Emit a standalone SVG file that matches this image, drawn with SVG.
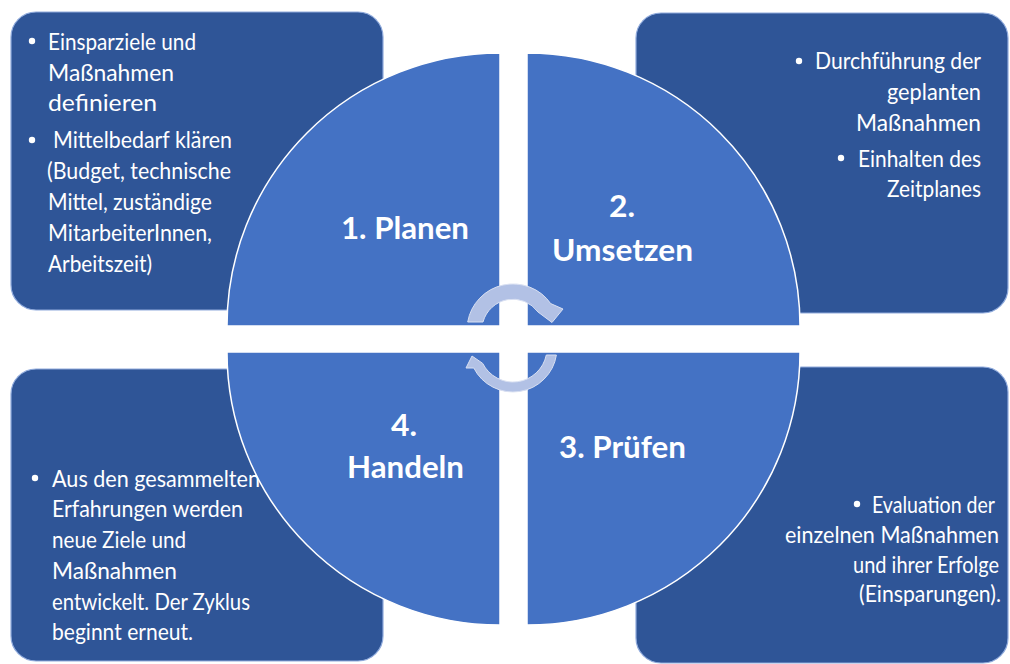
<svg xmlns="http://www.w3.org/2000/svg" width="1010" height="664" viewBox="0 0 1010 664">
  <style>
    .box { fill: #2F5597; stroke: #8FAADC; stroke-width: 1.2; }
    .quad { fill: #4472C4; stroke: #FFFFFF; stroke-width: 1.5; }
    .txt { font-family: Lato, "Open Sans", "Liberation Sans", sans-serif; font-size: 23.5px; fill: #FFFFFF; }
    .lbl { font-family: Lato, "Open Sans", "Liberation Sans", sans-serif; font-size: 29.5px; font-weight: bold; fill: #FFFFFF; }
    .bul { fill: #FFFFFF; }
    .arr { fill: #B2C1E5; stroke: #D9E0F2; stroke-width: 1; }
  </style>
  <rect width="1010" height="664" fill="#FFFFFF"/>

  <g id="box-planen">
    <rect class="box" x="11" y="12" width="372" height="298" rx="25" ry="25"/>
    <circle class="bul" cx="32" cy="41" r="3.2"/>
    <text class="txt" x="48" y="50" textLength="148" lengthAdjust="spacingAndGlyphs">Einsparziele und</text>
    <text class="txt" x="48" y="80.5" textLength="126" lengthAdjust="spacingAndGlyphs">Maßnahmen</text>
    <text class="txt" x="48" y="111" textLength="109" lengthAdjust="spacingAndGlyphs">definieren</text>
    <circle class="bul" cx="32" cy="140" r="3.2"/>
    <text class="txt" x="53" y="148" textLength="179" lengthAdjust="spacingAndGlyphs">Mittelbedarf klären</text>
    <text class="txt" x="47" y="179" textLength="184" lengthAdjust="spacingAndGlyphs">(Budget, technische</text>
    <text class="txt" x="48" y="210" textLength="164" lengthAdjust="spacingAndGlyphs">Mittel, zuständige</text>
    <text class="txt" x="48" y="241" textLength="164" lengthAdjust="spacingAndGlyphs">MitarbeiterInnen,</text>
    <text class="txt" x="48" y="272" textLength="104" lengthAdjust="spacingAndGlyphs">Arbeitszeit)</text>
  </g>

  <g id="box-umsetzen">
    <rect class="box" x="636" y="13" width="372" height="300" rx="25" ry="25"/>
    <circle class="bul" cx="799" cy="61" r="3.2"/>
    <text class="txt" x="815" y="69" textLength="166" lengthAdjust="spacingAndGlyphs">Durchführung der</text>
    <text class="txt" x="887" y="100" textLength="94" lengthAdjust="spacingAndGlyphs">geplanten</text>
    <text class="txt" x="856" y="131" textLength="125" lengthAdjust="spacingAndGlyphs">Maßnahmen</text>
    <circle class="bul" cx="841" cy="158" r="3.2"/>
    <text class="txt" x="858" y="167" textLength="123" lengthAdjust="spacingAndGlyphs">Einhalten des</text>
    <text class="txt" x="887" y="197" textLength="94" lengthAdjust="spacingAndGlyphs">Zeitplanes</text>
  </g>

  <g id="box-handeln">
    <rect class="box" x="11" y="369" width="372" height="292" rx="25" ry="25"/>
    <circle class="bul" cx="35" cy="478" r="3.2"/>
    <text class="txt" x="52" y="487" textLength="208" lengthAdjust="spacingAndGlyphs">Aus den gesammelten</text>
    <text class="txt" x="52" y="517" textLength="191" lengthAdjust="spacingAndGlyphs">Erfahrungen werden</text>
    <text class="txt" x="52" y="548" textLength="134" lengthAdjust="spacingAndGlyphs">neue Ziele und</text>
    <text class="txt" x="52" y="579" textLength="125" lengthAdjust="spacingAndGlyphs">Maßnahmen</text>
    <text class="txt" x="52" y="610" textLength="198" lengthAdjust="spacingAndGlyphs">entwickelt. Der Zyklus</text>
    <text class="txt" x="52" y="640" textLength="141" lengthAdjust="spacingAndGlyphs">beginnt erneut.</text>
  </g>

  <g id="box-pruefen">
    <rect class="box" x="636" y="367" width="372" height="296" rx="25" ry="25"/>
    <circle class="bul" cx="857" cy="504" r="3.2"/>
    <text class="txt" x="872" y="513" textLength="123" lengthAdjust="spacingAndGlyphs">Evaluation der</text>
    <text class="txt" x="785" y="543" textLength="214" lengthAdjust="spacingAndGlyphs">einzelnen Maßnahmen</text>
    <text class="txt" x="853" y="573" textLength="146" lengthAdjust="spacingAndGlyphs">und ihrer Erfolge</text>
    <text class="txt" x="859" y="602" textLength="142" lengthAdjust="spacingAndGlyphs">(Einsparungen).</text>
  </g>

  <g id="q1-planen">
    <path class="quad" d="M500,326 L227,326 A273,273 0 0 1 500,53 Z"/>
    <text class="lbl" x="341" y="239" textLength="128" lengthAdjust="spacingAndGlyphs">1. Planen</text>
  </g>
  <g id="q2-umsetzen">
    <path class="quad" d="M527,326 L527,53 A273,273 0 0 1 800,326 Z"/>
    <text class="lbl" x="609" y="217" textLength="26" lengthAdjust="spacingAndGlyphs">2.</text>
    <text class="lbl" x="552" y="261" textLength="141" lengthAdjust="spacingAndGlyphs">Umsetzen</text>
  </g>
  <g id="q3-pruefen">
    <path class="quad" d="M527,352 L800,352 A273,273 0 0 1 527,625 Z"/>
    <text class="lbl" x="559" y="458" textLength="127" lengthAdjust="spacingAndGlyphs">3. Prüfen</text>
  </g>
  <g id="q4-handeln">
    <path class="quad" d="M500,352 L500,625 A273,273 0 0 1 227,352 Z"/>
    <text class="lbl" x="391" y="436" textLength="26" lengthAdjust="spacingAndGlyphs">4.</text>
    <text class="lbl" x="347" y="478" textLength="117" lengthAdjust="spacingAndGlyphs">Handeln</text>
  </g>

  <g id="connectors">
    <path class="arr" d="M467.7,322 A46,46 0 0 1 550.7,303.6 L563,309 L552,322.5 L538,312 A31,31 0 0 0 483,322 Z"/>
    <path class="arr" d="M546.3,355 L556.4,355 A44,44 0 0 1 473.8,368 L466,368 L472,356 L482.7,363.4 A34,34 0 0 0 546.3,355 Z"/>
  </g>
</svg>
